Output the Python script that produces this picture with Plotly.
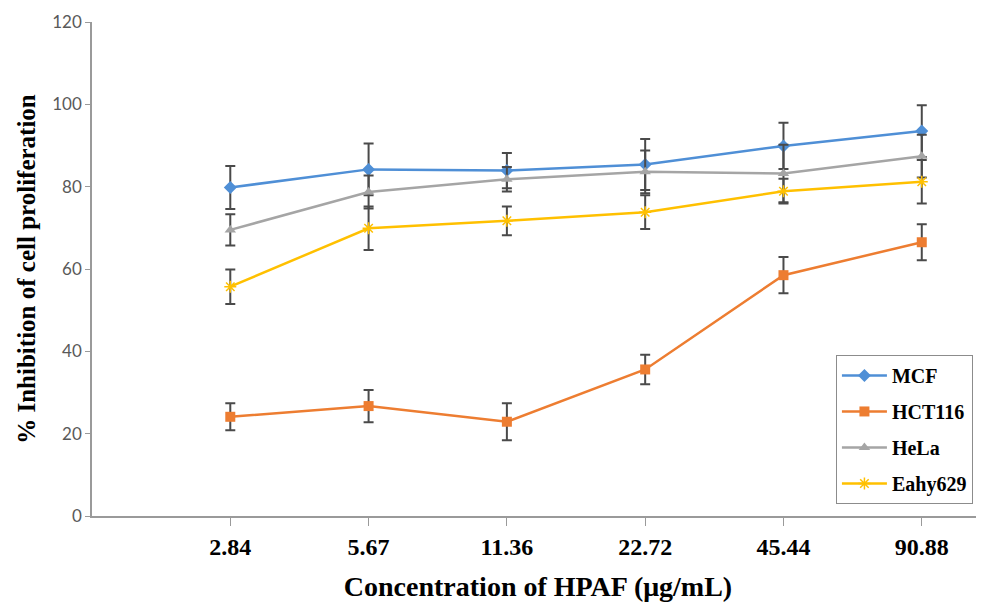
import plotly.graph_objects as go

concentrations = ["2.84", "5.67", "11.36", "22.72", "45.44", "90.88"]

mcf = [79.8, 84.2, 83.9, 85.4, 89.9, 93.5]
mcf_err = [5.2, 6.3, 4.3, 6.2, 5.6, 6.3]

hct116 = [24.1, 26.7, 22.9, 35.6, 58.5, 66.5]
hct116_err = [3.3, 3.9, 4.5, 3.6, 4.4, 4.4]

hela = [69.5, 78.7, 81.8, 83.6, 83.2, 87.4]
hela_err = [3.8, 4.0, 3.0, 5.2, 7.0, 5.2]

eahy629 = [55.7, 69.9, 71.7, 73.8, 78.9, 81.2]
eahy629_err = [4.2, 5.3, 3.5, 4.1, 3.0, 5.3]

y_ticks = [0, 20, 40, 60, 80, 100, 120]

series = [
    ("MCF", mcf, mcf_err, "#4F8FD6", "diamond", 10),
    ("HCT116", hct116, hct116_err, "#ED7D31", "square", 10),
    ("HeLa", hela, hela_err, "#A5A5A5", "triangle-up", 10),
    ("Eahy629", eahy629, eahy629_err, "#FFC000", "asterisk", 10),
]

fig = go.Figure()
for name, vals, errs, color, symbol, size in series:
    marker = dict(symbol=symbol, size=size, color=color)
    if symbol == "asterisk":
        marker["line"] = dict(color=color, width=1.5)
    fig.add_trace(go.Scatter(
        x=concentrations, y=vals, name=name, mode="lines+markers",
        legendgroup=name,
        line=dict(color=color, width=2.5),
        marker=marker,
        error_y=dict(type="data", array=errs, visible=True,
                     color="#4a4a4a", thickness=2, width=5),
    ))

fig.update_layout(
    width=976, height=606,
    margin=dict(l=84, r=0, t=14, b=98, autoexpand=False),
    plot_bgcolor="white", paper_bgcolor="white",
    showlegend=True,
    legend=dict(
        x=0.834, y=0.326, xanchor="left", yanchor="top",
        bgcolor="white", bordercolor="#8c8c8c", borderwidth=1,
        font=dict(family="Liberation Serif", size=20, color="black", weight="bold"),
        tracegroupgap=7, itemwidth=45,
    ),
    xaxis=dict(
        type="category", range=[-1, 5.45], automargin=False,
        showline=True, linecolor="#9a9a9a", linewidth=1.5,
        ticks="outside", ticklen=8, tickcolor="#9a9a9a",
        showgrid=False, zeroline=False,
        tickfont=dict(family="Liberation Serif", size=24, color="black", weight="bold"),
        title=dict(text="Concentration of HPAF (μg/mL)", standoff=18,
                   font=dict(family="Liberation Serif", size=28, color="black", weight="bold")),
    ),
    yaxis=dict(
        range=[0, 120], tickvals=y_ticks, automargin=False,
        showline=True, linecolor="#9a9a9a", linewidth=1.5,
        ticks="outside", ticklen=5, tickcolor="#9a9a9a",
        showgrid=False, zeroline=False,
        tickfont=dict(family="Lato", size=17, color="#595959"),
        title=dict(text="% Inhibition of cell proliferation", standoff=10,
                   font=dict(family="Liberation Serif", size=25, color="black", weight="bold")),
    ),
)

fig.write_html("out.html")
